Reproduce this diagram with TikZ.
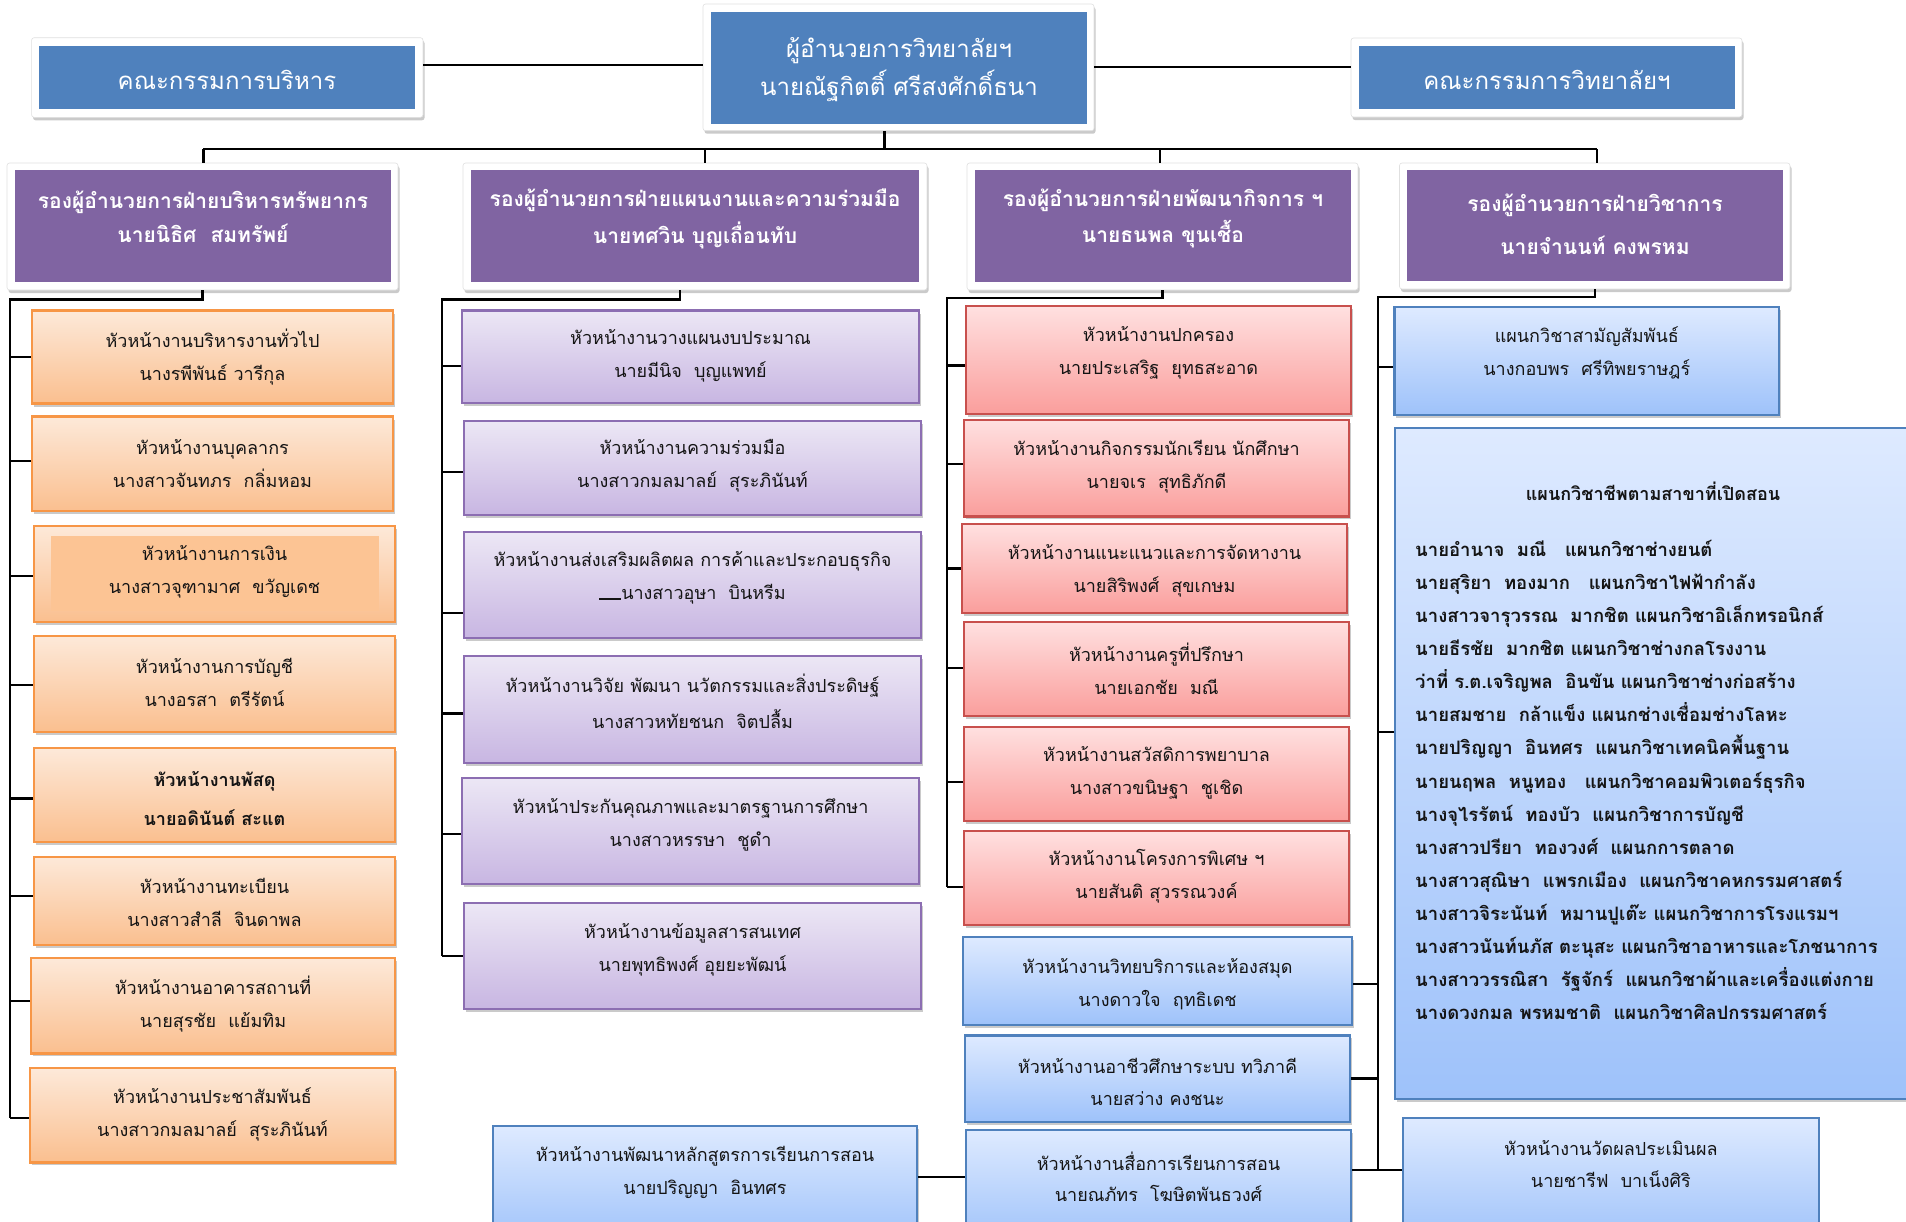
\documentclass[tikz,border=0pt]{standalone}
\usepackage{fontspec}
\newfontfamily\thai[Script=Thai]{Loma}
\usetikzlibrary{shadows,fit}
\definecolor{topblue}{RGB}{79,129,189}
\definecolor{purp}{RGB}{128,100,162}
\definecolor{oBd}{RGB}{247,150,70}
\definecolor{oTp}{RGB}{253,233,217}
\definecolor{oBt}{RGB}{250,191,143}
\definecolor{oIn}{RGB}{252,196,148}
\definecolor{lBd}{RGB}{140,110,178}
\definecolor{lTp}{RGB}{236,231,245}
\definecolor{lBt}{RGB}{200,182,226}
\definecolor{rBd}{RGB}{200,80,77}
\definecolor{rTp}{RGB}{255,224,224}
\definecolor{rBt}{RGB}{250,158,156}
\definecolor{bBd}{RGB}{79,129,189}
\definecolor{bTp}{RGB}{222,234,255}
\definecolor{bBt}{RGB}{158,194,250}
\definecolor{txtc}{RGB}{20,20,20}
\begin{document}
\begin{tikzpicture}[x=1pt,y=-1pt,
  shad/.style={drop shadow={shadow xshift=1.5pt,shadow yshift=-3pt,opacity=0.35,fill=black!60}},
  frame/.style={fill=white,draw=black!12,line width=0.6pt,rounded corners=2.5pt,inner sep=0pt,shad},
  tblue/.style={fill=topblue,draw=none,inner sep=0pt},
  vpurp/.style={fill=purp,draw=none,inner sep=0pt},
  obox/.style={draw=oBd,line width=2.2pt,top color=oTp,bottom color=oBt,inner sep=0pt,shad},
  lbox/.style={draw=lBd,line width=2.2pt,top color=lTp,bottom color=lBt,inner sep=0pt,shad},
  rbox/.style={draw=rBd,line width=2.2pt,top color=rTp,bottom color=rBt,inner sep=0pt,shad},
  bbox/.style={draw=bBd,line width=2.2pt,top color=bTp,bottom color=bBt,inner sep=0pt,shad},
  txt/.style={font=\thai\fontsize{18}{33}\selectfont,align=center,text=txtc,inner sep=0pt},
  ttop/.style={font=\thai\fontsize{24}{37}\selectfont,align=center,text=white,inner sep=0pt},
  tvp/.style={font=\thai\bfseries\fontsize{21}{36}\selectfont,align=center,text=white,inner sep=0pt},
  conn/.style={draw=black,line width=2.2pt}]
\useasboundingbox (0,0) rectangle (1906,1221);
\clip (0,0) rectangle (1906,1221);

% ---------- top row ----------
\node[frame,fit={(31.6,37.7) (423,117.3)}] (exf) {};
\node[tblue,fit={(39.3,45.7) (415.3,109.3)}] (ex) {};
\node[ttop] (ext) at (227,80) {คณะกรรมการบริหาร};

\node[frame,fit={(703,4) (1094,130.7)}] (dirf) {};
\node[tblue,fit={(710.6,11.7) (1087,124)}] (dir) {};
\node[ttop,font=\thai\fontsize{24}{38}\selectfont] (dirt) at (899,70) {ผู้อำนวยการวิทยาลัยฯ\\นายณัฐกิตติ์ ศรีสงศักดิ์ธนา};

\node[frame,fit={(1351,38) (1742,117)}] (colf) {};
\node[tblue,fit={(1359,46) (1735,109)}] (col) {};
\node[ttop] (colt) at (1547,80) {คณะกรรมการวิทยาลัยฯ};

% ---------- vice directors ----------
\node[frame,fit={(7,163) (398,290)}] (v1) {};
\node[vpurp,fit={(15,170) (391,282)}] (v1i) {};
\node[tvp,font=\thai\bfseries\fontsize{21}{34}\selectfont] (v1t) at (203,217) {รองผู้อำนวยการฝ่ายบริหารทรัพยากร\\นายนิธิศ~~สมทรัพย์};

\node[frame,fit={(463,163) (927,290)}] (v2) {};
\node[vpurp,fit={(471,170) (919,282)}] (v2i) {};
\node[tvp,font=\thai\bfseries\fontsize{21}{37}\selectfont] (v2t) at (695,219) {รองผู้อำนวยการฝ่ายแผนงานและความร่วมมือ\\นายทศวิน บุญเถื่อนทับ};

\node[frame,fit={(967,163) (1358,290)}] (v3) {};
\node[vpurp,fit={(975,170) (1351,282)}] (v3i) {};
\node[tvp] (v3t) at (1163,218.5) {รองผู้อำนวยการฝ่ายพัฒนากิจการ ฯ\\นายธนพล ขุนเชื้อ};

\node[frame,fit={(1399.5,163) (1790,289)}] (v4) {};
\node[vpurp,fit={(1407,170) (1782.5,281)}] (v4i) {};
\node[tvp,font=\thai\bfseries\fontsize{21}{43}\selectfont] (v4t) at (1595,224) {รองผู้อำนวยการฝ่ายวิชาการ\\นายจำนนท์ คงพรหม};

% ---------- column 1 (orange) ----------
\node[obox,fit={(32,310.5) (393,403.5)}] (o1) {};
\node[txt] (o1t) at (212.5,356.6) {หัวหน้างานบริหารงานทั่วไป\\นางรพีพันธ์ วารีกุล};
\node[obox,fit={(32,416.5) (393,511.2)}] (o2) {};
\node[txt] (o2t) at (212.5,463.8) {หัวหน้างานบุคลากร\\นางสาวจันทภร~~กลิ่มหอม};
\node[obox,fit={(34,525.7) (395,622.1)}] (o3) {};
\node[fill=oIn,inner sep=0pt,fit={(51,536) (379,611)}] (o3i) {};
\node[txt] (o3t) at (214.5,571.5) {หัวหน้างานการเงิน\\นางสาวจุฑามาศ~~ขวัญเดช};
\node[obox,fit={(34,635.9) (395,731.8)}] (o4) {};
\node[txt] (o4t) at (214.5,682.6) {หัวหน้างานการบัญชี\\นางอรสา~~ตรีรัตน์};
\node[obox,fit={(34,748) (395,842.2)}] (o5) {};
\node[txt,font=\thai\bfseries\fontsize{18}{39}\selectfont] (o5t) at (214.5,799) {หัวหน้างานพัสดุ\\นายอดินันต์ สะแต};
\node[obox,fit={(34,856.7) (395,945)}] (o6) {};
\node[txt] (o6t) at (214.5,902.5) {หัวหน้างานทะเบียน\\นางสาวสำลี~~จินดาพล};
\node[obox,fit={(31,957.8) (395,1053.4)}] (o7) {};
\node[txt] (o7t) at (213,1004.3) {หัวหน้างานอาคารสถานที่\\นายสุรชัย~~แย้มทิม};
\node[obox,fit={(30,1068.2) (395,1162.4)}] (o8) {};
\node[txt] (o8t) at (212.5,1114.7) {หัวหน้างานประชาสัมพันธ์\\นางสาวกมลมาลย์~~สุระภินันท์};

% ---------- column 2 (lavender) ----------
\node[lbox,fit={(462,310.5) (919,402.8)}] (p1) {};
\node[txt] (p1t) at (690.5,356.1) {หัวหน้างานวางแผนงบประมาณ\\นายมีนิจ~~บุญแพทย์};
\node[lbox,fit={(464,420.7) (921,514.7)}] (p2) {};
\node[txt] (p2t) at (692.5,465.6) {หัวหน้างานความร่วมมือ\\นางสาวกมลมาลย์~~สุระภินันท์};
\node[lbox,fit={(464,531.9) (921,638)}] (p3) {};
\node[txt] (p3t) at (692.5,577.9) {หัวหน้างานส่งเสริมผลิตผล การค้าและประกอบธุรกิจ\\\rule{22pt}{1.2pt}นางสาวอุษา~~บินหรีม};
\node[lbox,fit={(464,655.9) (921,762.8)}] (p4) {};
\node[txt,font=\thai\fontsize{18}{36}\selectfont] (p4t) at (692.5,701.5) {หัวหน้างานวิจัย พัฒนา นวัตกรรมและสิ่งประดิษฐ์\\นางสาวหทัยชนก~~จิตปลื้ม};
\node[lbox,fit={(462,777.7) (919,884.3)}] (p5) {};
\node[txt] (p5t) at (690.5,824.7) {หัวหน้าประกันคุณภาพและมาตรฐานการศึกษา\\นางสาวหรรษา~~ชูดำ};
\node[lbox,fit={(464,903.3) (921,1008.8)}] (p6) {};
\node[txt] (p6t) at (692.5,950) {หัวหน้างานข้อมูลสารสนเทศ\\นายพุทธิพงศ์ อุยยะพัฒน์};

\node[bbox,fit={(493,1126.2) (917,1245)}] (cur) {};
\node[txt] (curt) at (705,1172.6) {หัวหน้างานพัฒนาหลักสูตรการเรียนการสอน\\นายปริญญา~~อินทศร};

% ---------- column 3 (red / blue) ----------
\node[rbox,fit={(966,306.3) (1351,413.8)}] (r1) {};
\node[txt] (r1t) at (1158.5,353.2) {หัวหน้างานปกครอง\\นายประเสริฐ~~ยุทธสะอาด};
\node[rbox,fit={(964,420) (1349,516.4)}] (r2) {};
\node[txt] (r2t) at (1156.5,466.9) {หัวหน้างานกิจกรรมนักเรียน นักศึกษา\\นายจเร~~สุทธิภักดี};
\node[rbox,fit={(962,524) (1347,612.8)}] (r3) {};
\node[txt] (r3t) at (1154.5,570.7) {หัวหน้างานแนะแนวและการจัดหางาน\\นายสิริพงศ์~~สุขเกษม};
\node[rbox,fit={(964,622) (1349,716.2)}] (r4) {};
\node[txt] (r4t) at (1156.5,668.7) {หัวหน้างานครูที่ปรึกษา\\นายเอกชัย~~มณี};
\node[rbox,fit={(964,726.6) (1349,820.8)}] (r5) {};
\node[txt] (r5t) at (1156.5,773.2) {หัวหน้างานสวัสดิการพยาบาล\\นางสาวขนิษฐา~~ชูเชิด};
\node[rbox,fit={(964,830.8) (1349,925)}] (r6) {};
\node[txt] (r6t) at (1156.5,876.7) {หัวหน้างานโครงการพิเศษ ฯ\\นายสันติ สุวรรณวงค์};

\node[bbox,fit={(963,937) (1352,1025)}] (l1) {};
\node[txt] (l1t) at (1157.5,984.6) {หัวหน้างานวิทยบริการและห้องสมุด\\นางดาวใจ~~ฤทธิเดช};
\node[bbox,fit={(965,1035.4) (1350,1121.7)}] (l2) {};
\node[txt,font=\thai\fontsize{18}{32}\selectfont] (l2t) at (1157.5,1081.5) {หัวหน้างานอาชีวศึกษาระบบ ทวิภาคี\\นายสว่าง คงชนะ};
\node[bbox,fit={(966,1130.3) (1351,1245)}] (l3) {};
\node[txt,font=\thai\fontsize{18}{31}\selectfont] (l3t) at (1158.5,1177) {หัวหน้างานสื่อการเรียนการสอน\\นายณภัทร~~โฆษิตพันธวงศ์};

% ---------- column 4 ----------
\node[bbox,fit={(1394.4,307.3) (1779.2,415)}] (s1) {};
\node[txt] (s1t) at (1586.8,353) {แผนกวิชาสามัญสัมพันธ์\\นางกอบพร~~ศรีทิพยราษฎร์};
\node[bbox,fit={(1395,428.3) (1935,1099.3)}] (big) {};
\node[txt,font=\thai\bfseries\fontsize{18}{33}\selectfont] (bigt) at (1653,491.7) {แผนกวิชาชีพตามสาขาที่เปิดสอน};
\node[txt,font=\thai\bfseries\fontsize{18.5}{33.1}\selectfont,align=left,anchor=west] (bigl) at (1415,780) {%
นายอำนาจ~~มณี~~~แผนกวิชาช่างยนต์\\
นายสุริยา~~ทองมาก~~~แผนกวิชาไฟฟ้ากำลัง\\
นางสาวจารุวรรณ~~มากชิต แผนกวิชาอิเล็กทรอนิกส์\\
นายธีรชัย~~มากชิต แผนกวิชาช่างกลโรงงาน\\
ว่าที่ ร.ต.เจริญพล~~อินขัน แผนกวิชาช่างก่อสร้าง\\
นายสมชาย~~กล้าแข็ง แผนกช่างเชื่อมช่างโลหะ\\
นายปริญญา~~อินทศร~~แผนกวิชาเทคนิคพื้นฐาน\\
นายนฤพล~~หนูทอง~~~แผนกวิชาคอมพิวเตอร์ธุรกิจ\\
นางจุไรรัตน์~~ทองบัว~~แผนกวิชาการบัญชี\\
นางสาวปรียา~~ทองวงศ์~~แผนกการตลาด\\
นางสาวสุณิษา~~แพรกเมือง~~แผนกวิชาคหกรรมศาสตร์\\
นางสาวจิระนันท์~~หมานปูเต๊ะ แผนกวิชาการโรงแรมฯ\\
นางสาวนันท์นภัส ตะนุสะ แผนกวิชาอาหารและโภชนาการ\\
นางสาววรรณิสา~~รัฐจักร์~~แผนกวิชาผ้าและเครื่องแต่งกาย\\
นางดวงกมล พรหมชาติ~~แผนกวิชาศิลปกรรมศาสตร์};
\node[bbox,fit={(1402.8,1118.3) (1818.8,1245)}] (ev) {};
\node[txt,font=\thai\fontsize{18}{32}\selectfont] (evt) at (1610.8,1164) {หัวหน้างานวัดผลประเมินผล\\นายชารีฟ~~บาเน็งศิริ};

% ---------- connector anchor points ----------
\coordinate (topL) at (203.4,149);
\coordinate (topR) at (1596.9,149);
\coordinate (exc) at ([yshift=12.5pt]exf.east);
\coordinate (coc) at ([yshift=10.8pt]colf.west);
\coordinate (dic) at ([xshift=-14pt]dirf.south);
\coordinate (v2n) at ([xshift=10pt]v2.north);
\coordinate (v3n) at ([xshift=-2.5pt]v3.north);
\coordinate (v2s) at ([xshift=-15pt]v2.south);
\coordinate (o1w) at (o1.west);
\coordinate (o2w) at ([yshift=2.5pt]o2.west);
\coordinate (o3w) at ([yshift=-1.7pt]o3.west);
\coordinate (o4w) at ([yshift=-1.2pt]o4.west);
\coordinate (o5w) at ([yshift=-3.3pt]o5.west);
\coordinate (o6w) at ([yshift=5.1pt]o6.west);
\coordinate (o7w) at ([yshift=4.7pt]o7.west);
\coordinate (o8w) at ([yshift=-2.9pt]o8.west);
\coordinate (p1w) at ([yshift=-9pt]p1.west);
\coordinate (p2w) at ([yshift=-3.9pt]p2.west);
\coordinate (p3w) at ([yshift=-27.9pt]p3.west);
\coordinate (p4w) at ([yshift=-4.1pt]p4.west);
\coordinate (p5w) at ([yshift=-3.2pt]p5.west);
\coordinate (p6w) at (p6.west);
\coordinate (r1w) at ([yshift=-5.5pt]r1.west);
\coordinate (r2w) at ([yshift=4.5pt]r2.west);
\coordinate (r3w) at (r3.west);
\coordinate (r4w) at ([yshift=1pt]r4.west);
\coordinate (r5w) at ([yshift=-8.1pt]r5.west);
\coordinate (r6w) at ([yshift=-9.1pt]r6.west);
\coordinate (s1w) at ([yshift=-6.2pt]s1.west);
\coordinate (bigw) at ([yshift=31.5pt]big.west);
\coordinate (l1e) at ([yshift=-2.7pt]l1.east);
\coordinate (l2e) at (l2.east);
\coordinate (l3e) at ([yshift=17.6pt]l3.east);
\coordinate (cure) at ([yshift=8.6pt]cur.east);
\coordinate (b1) at (10,299.5);
\coordinate (b2) at (442,299.5);
\coordinate (b3) at (947,297.7);
\coordinate (b4) at (1378,297);

% ---------- connectors ----------
\draw[conn] (exc) -- (exc -| dirf.west);
\draw[conn] (coc) -- (coc -| dirf.east);
\draw[conn] (dic) -- (dic |- topL);
\draw[conn] (topL) -- (topR);
\draw[conn] (topL) -- (topL |- v1.north);
\draw[conn] (v2n |- topL) -- (v2n);
\draw[conn] (v3n |- topL) -- (v3n);
\draw[conn] (topR) -- (topR |- v4.north);

\draw[conn] (v1.south) |- (b1) -- (b1 |- o8w);
\foreach \t in {o1w,o2w,o3w,o4w,o5w,o6w,o7w,o8w} \draw[conn] (b1 |- \t) -- (\t);

\draw[conn] (v2s) |- (b2) -- (b2 |- p6w);
\foreach \t in {p1w,p2w,p3w,p4w,p5w,p6w} \draw[conn] (b2 |- \t) -- (\t);

\draw[conn] (v3.south) |- (b3) -- (b3 |- r6w);
\foreach \t in {r1w,r2w,r3w,r4w,r5w,r6w} \draw[conn] (b3 |- \t) -- (\t);

\draw[conn] (v4.south) |- (b4) -- (b4 |- l3e);
\draw[conn] (b4 |- s1w) -- (s1w);
\draw[conn] (b4 |- bigw) -- (bigw);
\draw[conn] (l1e) -- (b4 |- l1e);
\draw[conn] (l2e) -- (b4 |- l2e);
\draw[conn] (l3e) -- (l3e -| ev.west);
\draw[conn] (cure) -- (cure -| l3.west);
\end{tikzpicture}
\end{document}
